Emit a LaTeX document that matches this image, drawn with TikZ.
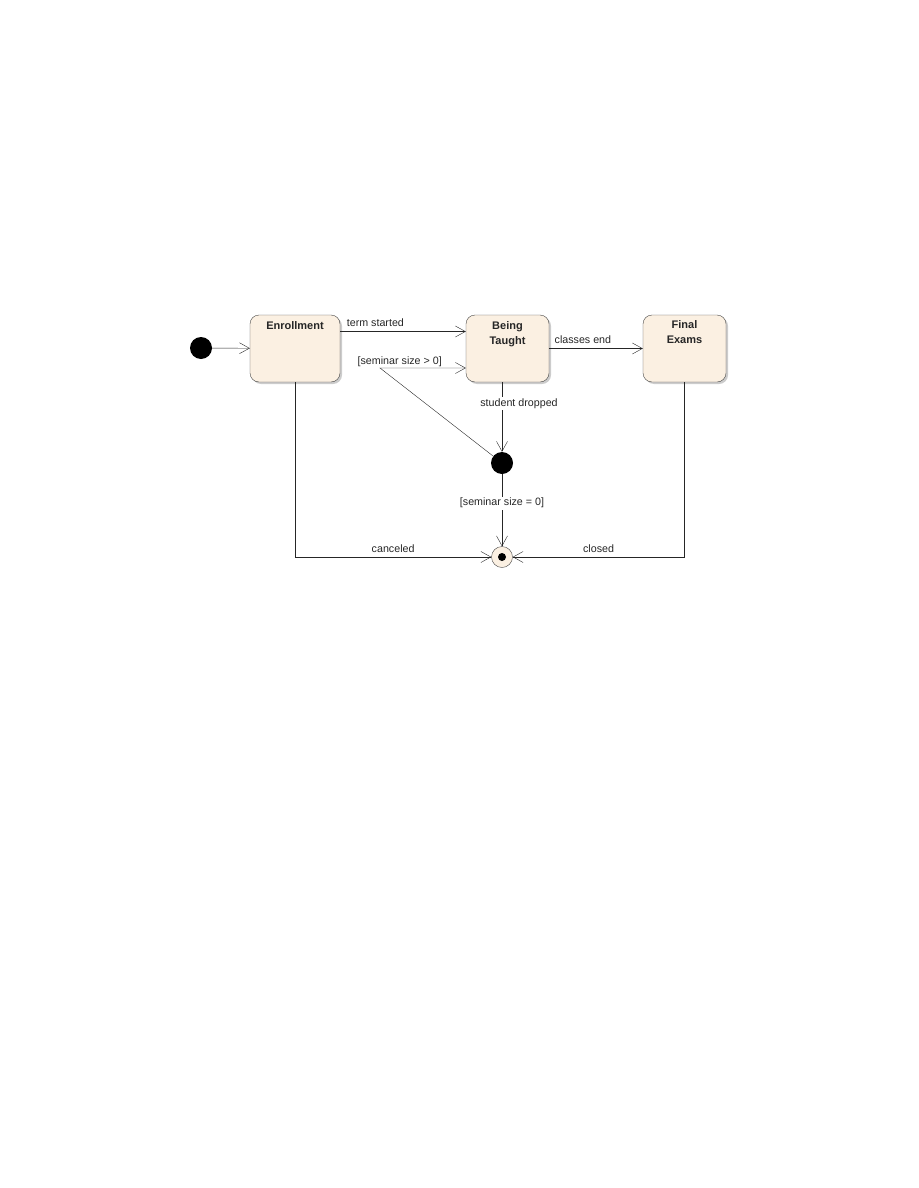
\documentclass[tikz,border=0pt]{standalone}
\usepackage{fontspec}
\setmainfont{Liberation Sans}
\usetikzlibrary{arrows.meta, positioning, shadows}
\definecolor{statefill}{RGB}{251, 240, 226}
\definecolor{stateline}{RGB}{70, 70, 70}
\definecolor{shadowgray}{RGB}{170, 170, 170}

\begin{document}
\begin{tikzpicture}[x=1pt, y=-1pt,
    state/.style={draw=stateline, fill=statefill, rounded corners=9pt,
      minimum height=67pt, inner sep=0pt,
      drop shadow={shadow xshift=2pt, shadow yshift=-2pt, fill=shadowgray, opacity=0.6}},
    statename/.style={font=\fontsize{11}{15}\selectfont\bfseries,
      align=center, inner sep=0pt, text=black!85},
    blob/.style={circle, fill=black, minimum size=22pt, inner sep=0pt},
    trans/.style={draw=black!85, -{Straight Barb[length=10pt, width=11pt]}},
    lbl/.style={font=\fontsize{10.7}{12}\selectfont, inner sep=1.5pt, text=black!85},
    over/.style={above, yshift=3pt},
  ]
  \useasboundingbox (0,0) rectangle (918,1188);

  % States
  \node[blob] (init) at (201,348) {};
  \node[state, minimum width=90pt] (enroll) at (295,348.5) {};
  \node[state, minimum width=83pt] (taught) at (507.5,348.5) {};
  \node[state, minimum width=83pt] (exams) at (684.5,348.5) {};
  \node[statename, below=6.5pt of enroll.north] (enrollname) {Enrollment};
  \node[statename, below=6.5pt of taught.north] (taughtname) {Being\\Taught};
  \node[statename, below=6pt of exams.north] (examsname) {Final\\Exams};

  % Junction and final state
  \node[blob] (junc) at (502,463) {};
  \node[circle, draw=stateline, fill=statefill, minimum size=21pt, inner sep=0pt]
    (final) at (502,557) {};
  \fill[black] (final) circle (4pt);
  \coordinate (fork) at (380,368);

  % Transitions
  \draw[trans] (init) -- (enroll);
  \draw[trans] ([yshift=17pt]enroll.east) -- ([yshift=17pt]taught.west)
    node[lbl, pos=0.28, over] {term started};
  \draw[trans] (junc) -- (fork) -- (taught.west |- fork)
    node[lbl, pos=0.23, above] {[seminar size > 0]};
  \draw[trans] (taught) -- (exams)
    node[lbl, pos=0.36, over] {classes end};
  \draw[trans] (taught.south -| junc) -- (junc)
    node[lbl, pos=0.31, fill=white, xshift=17pt] {student dropped};
  \draw[trans] (junc) -- (final)
    node[lbl, pos=0.4, fill=white] {[seminar size = 0]};
  \draw[trans] (enroll.south) |- (final)
    node[lbl, pos=0.75, over] {canceled};
  \draw[trans] (exams.south) |- (final)
    node[lbl, pos=0.75, over] {closed};
\end{tikzpicture}
\end{document}
